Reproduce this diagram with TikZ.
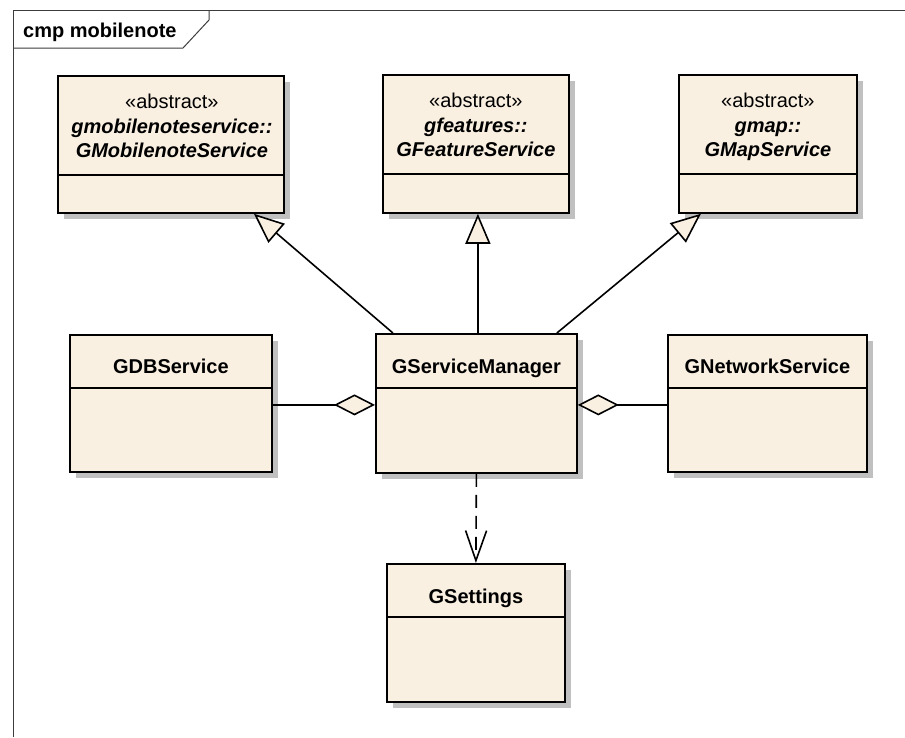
\documentclass[tikz,border=0pt]{standalone}
\usepackage{fontspec}
\setmainfont{Liberation Sans}
\usetikzlibrary{arrows.meta,shadows}

\definecolor{classfill}{RGB}{250,240,226}
\definecolor{shadowgray}{RGB}{192,192,192}
\definecolor{framegray}{RGB}{60,60,60}

\tikzset{
  classbox/.style={draw=black, line width=1.8pt, fill=classfill, anchor=north west,
    inner sep=0pt, rectangle,
    drop shadow={shadow xshift=6pt, shadow yshift=-6pt, fill=shadowgray, opacity=1}},
  divider/.style={draw=black, line width=1.8pt},
  txt/.style={anchor=base, inner sep=0pt, font=\fontsize{20}{24}\selectfont},
  stereo/.style={txt},
  absname/.style={txt, font=\fontsize{20}{24}\selectfont\bfseries\itshape},
  cname/.style={txt, font=\fontsize{20}{24}\selectfont\bfseries},
  gen/.style={line width=1.6pt, -{Triangle[length=30pt, width=25pt, fill=classfill]}},
  aggr/.style={line width=1.6pt, {Diamond[length=41pt, width=21pt, fill=classfill]}-},
  dep/.style={line width=1.6pt, dash pattern=on 13pt off 8pt,
    -{Straight Barb[length=30pt, width=21pt]}},
  framestyle/.style={draw=framegray, line width=1pt},
}

\begin{document}
\begin{tikzpicture}[x=1pt, y=-1pt]
  \useasboundingbox (0,0) rectangle (905,737);

  % diagram frame with its name tab
  \draw[framestyle] (13,737) -- (13,10) -- (905,10);
  \draw[framestyle] (13,48) -- (183,48) -- (209,20) -- (209,10);
  \node[cname, anchor=base west] (title) at (23,37) {cmp mobilenote};

  % abstract service classes
  \node[classbox, minimum width=226pt, minimum height=137pt] (mob) at (57,75) {};
  \draw[divider] ([shift={(0,100)}]mob.north west) -- ([shift={(0,100)}]mob.north east);
  \node[stereo] (mobst) at ([shift={(1,33.5)}]mob.north) {«abstract»};
  \node[absname] (mobpk) at ([shift={(1,58)}]mob.north) {gmobilenoteservice::};
  \node[absname] (mobnm) at ([shift={(1,82.5)}]mob.north) {GMobilenoteService};

  \node[classbox, minimum width=186pt, minimum height=138pt] (feat) at (382,74) {};
  \draw[divider] ([shift={(0,100)}]feat.north west) -- ([shift={(0,100)}]feat.north east);
  \node[stereo] (featst) at ([shift={(0,33.5)}]feat.north) {«abstract»};
  \node[absname] (featpk) at ([shift={(0,58)}]feat.north) {gfeatures::};
  \node[absname] (featnm) at ([shift={(0,82.5)}]feat.north) {GFeatureService};

  \node[classbox, minimum width=178pt, minimum height=138pt] (gmap) at (678,74) {};
  \draw[divider] ([shift={(0,100)}]gmap.north west) -- ([shift={(0,100)}]gmap.north east);
  \node[stereo] (gmapst) at ([shift={(0,33.5)}]gmap.north) {«abstract»};
  \node[absname] (gmappk) at ([shift={(0,58)}]gmap.north) {gmap::};
  \node[absname] (gmapnm) at ([shift={(0,82.5)}]gmap.north) {GMapService};

  % concrete classes
  \node[classbox, minimum width=202pt, minimum height=137pt] (gdb) at (69,334) {};
  \draw[divider] ([shift={(0,54)}]gdb.north west) -- ([shift={(0,54)}]gdb.north east);
  \node[cname] (gdbnm) at ([shift={(0,39.5)}]gdb.north) {GDBService};

  \node[classbox, minimum width=201pt, minimum height=139pt] (gsm) at (375,333) {};
  \draw[divider] ([shift={(0,55)}]gsm.north west) -- ([shift={(0,55)}]gsm.north east);
  \node[cname] (gsmnm) at ([shift={(0,40.5)}]gsm.north) {GServiceManager};

  \node[classbox, minimum width=199pt, minimum height=137pt] (gnet) at (667,334) {};
  \draw[divider] ([shift={(0,54)}]gnet.north west) -- ([shift={(0,54)}]gnet.north east);
  \node[cname] (gnetnm) at ([shift={(0,39.5)}]gnet.north) {GNetworkService};

  \node[classbox, minimum width=178pt, minimum height=138pt] (gset) at (386,563) {};
  \draw[divider] ([shift={(0,54)}]gset.north west) -- ([shift={(0,54)}]gset.north east);
  \node[cname] (gsetnm) at ([shift={(0,40)}]gset.north) {GSettings};

  % generalizations
  \draw[gen] ([xshift=-83.5pt]gsm.north) -- ([xshift=83pt]mob.south);
  \draw[gen] ([xshift=1.5pt]gsm.north) -- ([xshift=2pt]feat.south);
  \draw[gen] ([xshift=80.5pt]gsm.north) -- ([xshift=-67pt]gmap.south);

  % aggregations
  \draw[aggr] ([yshift=-1.5pt]gsm.west) -- ([yshift=-1.5pt]gdb.east);
  \draw[aggr] ([yshift=-1.5pt]gsm.east) -- ([yshift=-1.5pt]gnet.west);

  % dependency
  \draw[dep] (gsm.south) -- (gset.north);
\end{tikzpicture}
\end{document}
